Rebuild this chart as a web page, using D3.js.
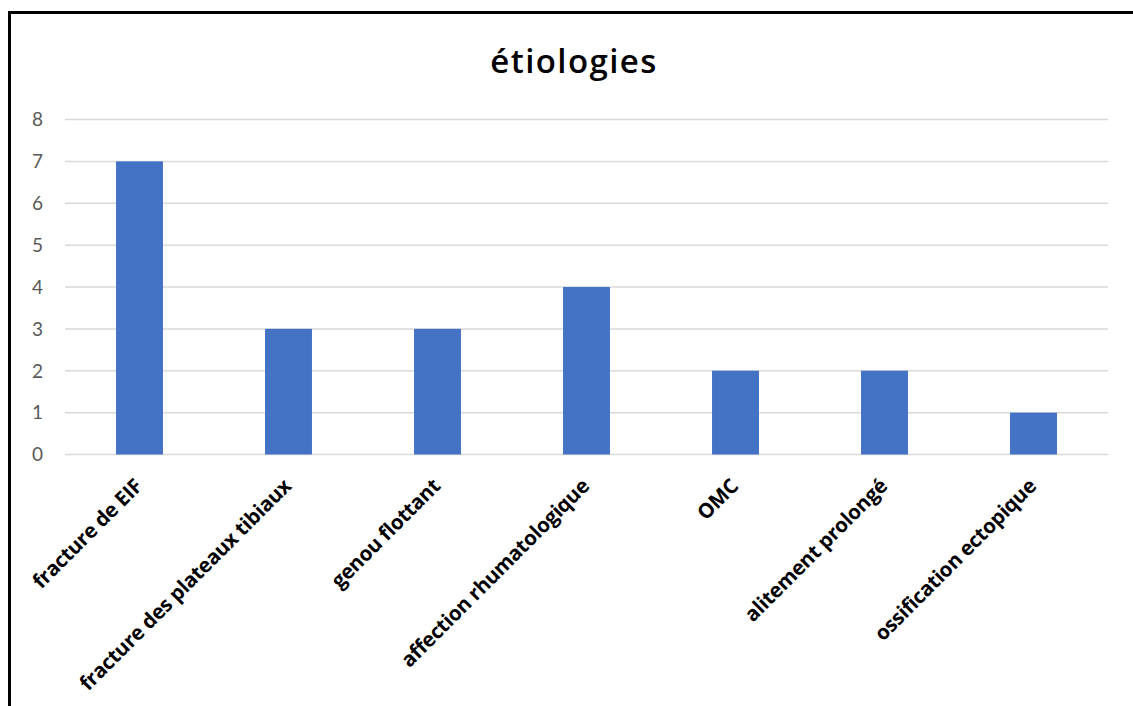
<!DOCTYPE html>
<html>
<head>
<meta charset="utf-8">
<script src="https://cdn.jsdelivr.net/npm/d3@7"></script>
<style>
  html, body { margin: 0; padding: 0; background: #fff; }
  svg { display: block; }
</style>
</head>
<body>
<svg id="chart" width="1133" height="706"></svg>
<script>
// Étiologies : nombre de cas par cause
const categories = [
  "fracture de EIF",
  "fracture des plateaux tibiaux",
  "genou flottant",
  "affection rhumatologique",
  "OMC",
  "alitement prolongé",
  "ossification ectopique"
];
const values = [7, 3, 3, 4, 2, 2, 1];
const yTicks = [0, 1, 2, 3, 4, 5, 6, 7, 8];
const title = "étiologies";

const svg = d3.select("#chart");
const W = 1133, H = 706;
const plot = { left: 65, right: 1108, top: 119.5, bottom: 454.5 };
const font = "'Open Sans', sans-serif";

// frame: left and top edges
svg.append("line").attr("x1", 9.5).attr("x2", 9.5).attr("y1", 11).attr("y2", H)
  .attr("stroke", "#000").attr("stroke-width", 3);
svg.append("line").attr("x1", 8).attr("x2", W).attr("y1", 12.5).attr("y2", 12.5)
  .attr("stroke", "#000").attr("stroke-width", 3);

const x = d3.scaleBand().domain(categories).range([plot.left, plot.right]).paddingInner(0.685).paddingOuter(0.3425);
const y = d3.scaleLinear().domain([0, 8]).range([plot.bottom, plot.top]);

// gridlines
svg.append("g").selectAll("line").data(yTicks).join("line")
  .attr("x1", plot.left).attr("x2", plot.right)
  .attr("y1", d => y(d)).attr("y2", d => y(d))
  .attr("stroke", "#d9d9d9").attr("stroke-width", 1.5);

// y tick labels
svg.append("g").selectAll("text").data(yTicks).join("text")
  .attr("x", 43).attr("y", d => y(d)).attr("dy", "0.36em")
  .attr("text-anchor", "end")
  .attr("font-family", "Lato, sans-serif").attr("font-size", 19)
  .attr("fill", "#595959")
  .text(d => d);

// bars
svg.append("g").selectAll("rect").data(values).join("rect")
  .attr("x", (d, i) => x(categories[i]))
  .attr("width", x.bandwidth())
  .attr("y", d => y(d))
  .attr("height", d => y(0) - y(d))
  .attr("fill", "#4472c4");

// category labels, rotated
svg.append("g").selectAll("text").data(categories).join("text")
  .attr("transform", d => `translate(${x(d) + x.bandwidth() / 2 + 4},${plot.bottom + 33}) rotate(-45)`)
  .attr("text-anchor", "end")
  .attr("font-family", font).attr("font-size", 20.5).attr("font-weight", 700)
  .attr("letter-spacing", -0.3)
  .attr("fill", "#000")
  .text(d => d);

// title
svg.append("text")
  .attr("x", 574).attr("y", 73)
  .attr("text-anchor", "middle")
  .attr("font-family", font).attr("font-size", 33).attr("font-weight", 600)
  .attr("letter-spacing", 1.4)
  .attr("fill", "#000")
  .text(title);
</script>
</body>
</html>
